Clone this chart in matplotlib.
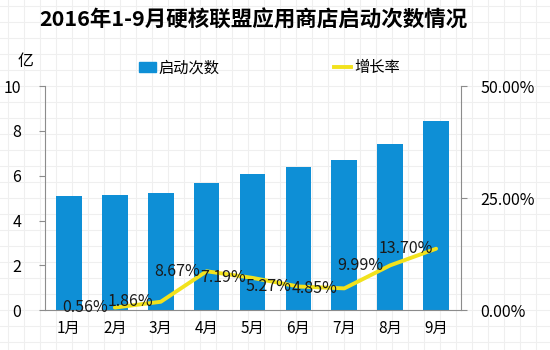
import matplotlib

matplotlib.use("Agg")
import matplotlib.pyplot as plt
import numpy as np
from matplotlib.lines import Line2D
from matplotlib.patches import Patch

plt.rcParams["font.family"] = ["Noto Sans CJK SC", "DejaVu Sans"]

months = ["1月", "2月", "3月", "4月", "5月", "6月", "7月", "8月", "9月"]
launches = [5.10, 5.13, 5.22, 5.67, 6.08, 6.40, 6.71, 7.40, 8.42]  # 亿次
growth = [0.56, 1.86, 8.67, 7.19, 5.27, 4.85, 9.99, 13.70]  # %, 2月起环比
left_ticks = [0, 2, 4, 6, 8, 10]
right_ticks = [0, 25, 50]

BAR_BLUE = "#0e8fd6"
LINE_YELLOW = "#f2e21c"
SPINE_GREY = "#8c8c8c"

fig = plt.figure(figsize=(5.5, 3.5), dpi=100)

# 浅色网格底纹
bg = fig.add_axes([0, 0, 1, 1], zorder=-5)
bg.set_xlim(0, 550)
bg.set_ylim(350, 0)
bg.set_xticks(np.arange(8, 550, 16))
bg.set_yticks(np.arange(6, 350, 16))
bg.grid(True, color="#efefef", lw=0.8)
bg.tick_params(length=0, labelbottom=False, labelleft=False)
for s in bg.spines.values():
    s.set_visible(False)

ax = fig.add_axes([0.082, 0.114, 0.756, 0.64])
ax.set_facecolor("none")
x = np.arange(len(months))
ax.bar(x, launches, width=0.56, color=BAR_BLUE, zorder=2)
ax.set_xlim(-0.52, 8.54)
ax.set_ylim(0, 10)
ax.set_yticks(left_ticks)
ax.set_xticks(x)
ax.set_xticklabels(months)
ax.tick_params(axis="x", length=0, pad=7, labelsize=11)
ax.tick_params(axis="y", length=4, color=SPINE_GREY, pad=13, labelsize=11.5)
for side in ("top", "right"):
    ax.spines[side].set_visible(False)
for side in ("left", "bottom"):
    ax.spines[side].set_color(SPINE_GREY)

ax2 = ax.twinx()
ax2.set_ylim(0, 50)
ax2.set_yticks(right_ticks)
ax2.set_yticklabels([f"{v:.2f}%" for v in right_ticks])
ax2.tick_params(axis="y", length=4, color=SPINE_GREY, pad=10, labelsize=11.5)
for side in ("top", "left", "bottom"):
    ax2.spines[side].set_visible(False)
ax2.spines["right"].set_color(SPINE_GREY)

gx = x[1:]
ax2.plot(gx, growth, color=LINE_YELLOW, lw=2.8, zorder=3, solid_capstyle="round")
for i, g in enumerate(growth):
    ax2.text(i + 0.35, g, f"{g:.2f}%", ha="center", va="center",
             fontsize=11.5, color="#1a1a1a", zorder=4)

fig.text(0.46, 0.943, "2016年1-9月硬核联盟应用商店启动次数情况",
         ha="center", va="center", fontsize=15.5, fontweight="bold")
fig.text(0.047, 0.825, "亿", ha="center", va="center", fontsize=11.5)

handles = [Patch(color=BAR_BLUE), Line2D([], [], color=LINE_YELLOW, lw=2.8)]
fig.legend(handles, ["启动次数", "增长率"], loc="center", ncol=2,
           bbox_to_anchor=(0.49, 0.806), frameon=False, fontsize=11,
           handlelength=1.1, handletextpad=0.2, columnspacing=7.5)

fig.savefig("out.png", dpi=100)
